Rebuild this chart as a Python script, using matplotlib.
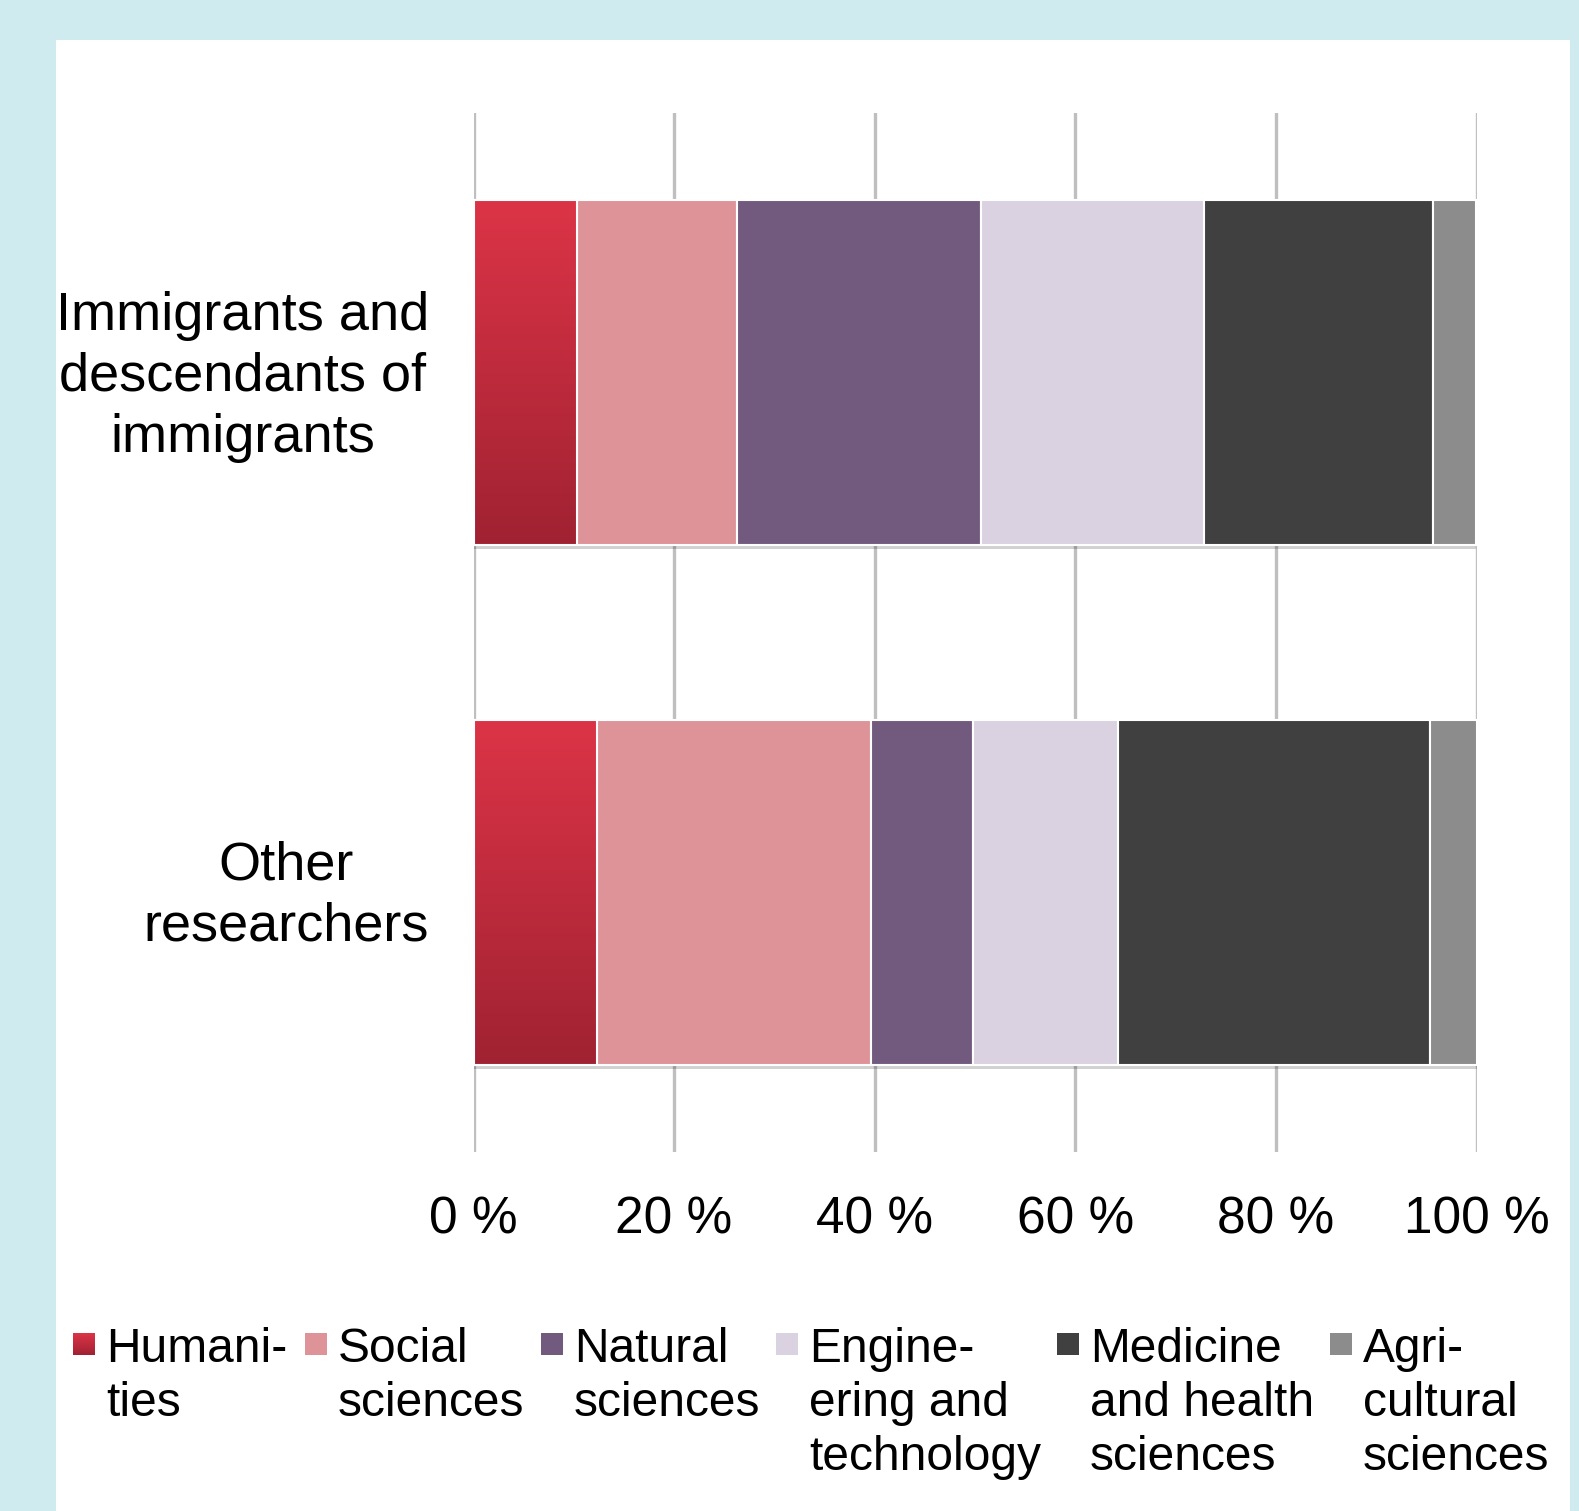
import numpy as np
import matplotlib
matplotlib.use("Agg")
import matplotlib.pyplot as plt
from matplotlib.patches import Rectangle
from matplotlib.colors import LinearSegmentedColormap
from matplotlib.transforms import ScaledTranslation
import matplotlib.patheffects as pe

plt.rcParams['font.family'] = ['Liberation Sans', 'DejaVu Sans']

groups = ['Immigrants and\ndescendants of\nimmigrants', 'Other\nresearchers']
fields = ['Humani-\nties', 'Social\nsciences', 'Natural\nsciences',
          'Engine-\nering and\ntechnology', 'Medicine\nand health\nsciences',
          'Agri-\ncultural\nsciences']
# share (%) per field, first value = immigrants, second = other researchers
humanities = [10.3, 12.3]
social = [16.0, 27.3]
natural = [24.3, 10.2]
engineering = [22.2, 14.5]
medicine = [22.9, 31.1]
agricultural = [4.3, 4.6]
ticks = [0, 20, 40, 60, 80, 100]
tick_labels = ['0 %', '20 %', '40 %', '60 %', '80 %', '100 %']

series = [humanities, social, natural, engineering, medicine, agricultural]
colors = [None, '#de9399', '#725a7e', '#dad2e0', '#404040', '#8c8c8c']
hum_cmap = LinearSegmentedColormap.from_list('hum', ['#a02232', '#dc3447'])

W, H = 1579, 1511
fig = plt.figure(figsize=(W / 100, H / 100), dpi=100)
fig.patch.set_facecolor('#cfebf0')
fig.add_artist(Rectangle((56 / W, 0), (1570 - 56) / W, 1 - 40 / H,
                         transform=fig.transFigure, facecolor='white',
                         edgecolor='none', zorder=0))

ax = fig.add_axes([473.5 / W, 1 - 1152 / H, 1003 / W, 1039 / H])
ax.set_facecolor('none')

ypos = np.array([1, 0])
bh = 0.664
shadow = [pe.SimplePatchShadow(offset=(0, -3), shadow_rgbFace='black', alpha=0.18), pe.Normal()]
left = np.zeros(2)
for i, vals in enumerate(series):
    vals = np.array(vals)
    if i == 0:
        bars = ax.barh(ypos, vals, left=left, height=bh, color='#c42c3e',
                       edgecolor='white', linewidth=1.5, zorder=2, path_effects=shadow)
        grad = np.linspace(0, 1, 256).reshape(-1, 1)
        for b in bars:
            x0, y0 = b.get_x(), b.get_y()
            im = ax.imshow(grad, extent=[x0, x0 + b.get_width(), y0, y0 + b.get_height()],
                           origin='lower', aspect='auto', cmap=hum_cmap, zorder=2.5)
            im.set_clip_path(b)
        ax.barh(ypos, vals, left=left, height=bh, fill=False,
                edgecolor='white', linewidth=1.5, zorder=3)
    else:
        ax.barh(ypos, vals, left=left, height=bh, color=colors[i],
                edgecolor='white', linewidth=1.5, zorder=2, path_effects=shadow)
    left += vals

ax.set_xlim(0, 100)
ax.set_ylim(-0.5, 1.5)
for s in ax.spines.values():
    s.set_visible(False)
ax.set_xticks(ticks)
ax.set_xticklabels(tick_labels, fontsize=37)
ax.set_yticks(ypos)
ax.set_yticklabels(groups, fontsize=39, multialignment='center', linespacing=1.28)
ax.tick_params(axis='x', length=0, pad=31)
ax.tick_params(axis='y', length=0, pad=32)
ax.grid(axis='x', color='#bfbfbf', linewidth=2.4, zorder=1)
ax.set_axisbelow(True)
# nudge the group labels up a little
for lbl in ax.get_yticklabels():
    lbl.set_transform(lbl.get_transform() + ScaledTranslation(0, 0.07, fig.dpi_scale_trans))

# legend drawn by hand, one column per field
leg_x = [73, 305, 541, 776, 1057, 1330]
for i, (lab, xp) in enumerate(zip(fields, leg_x)):
    if i == 0:
        lax = fig.add_axes([xp / W, 1 - 1355 / H, 22 / W, 22 / H])
        lax.imshow(np.linspace(0, 1, 64).reshape(-1, 1), origin='lower',
                   aspect='auto', cmap=hum_cmap)
        lax.axis('off')
    else:
        fig.add_artist(Rectangle((xp / W, 1 - 1355 / H), 22 / W, 22 / H,
                                 transform=fig.transFigure, facecolor=colors[i],
                                 edgecolor='none'))
    fig.text((xp + 33) / W, 1 - 1327 / H, lab, fontsize=34.5, va='top',
             ha='left', linespacing=1.25)

fig.savefig('out.png', dpi=100, facecolor=fig.get_facecolor())
